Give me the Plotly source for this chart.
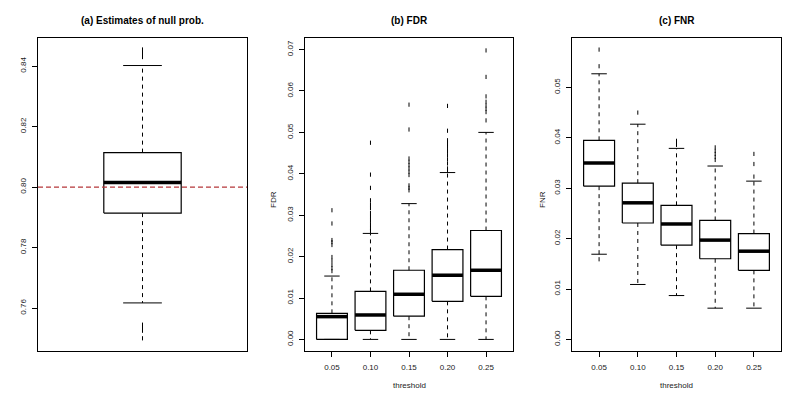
import plotly.graph_objects as go

# ---------------- data ----------------
thresholds = ["0.05", "0.10", "0.15", "0.20", "0.25"]

# (a) estimates of null probability
null_q1, null_med, null_q3 = [0.7914], [0.8015], [0.8114]
null_lo, null_hi = [0.7617], [0.8402]
null_out = [0.8455, 0.8448, 0.8440, 0.8430, 0.7545, 0.7535, 0.7525, 0.7500]
null_true = 0.80

# (b) FDR
fdr_q1 = [0.0000, 0.0022, 0.0056, 0.0092, 0.0104]
fdr_med = [0.0055, 0.0059, 0.0109, 0.0155, 0.0167]
fdr_q3 = [0.0063, 0.0116, 0.0167, 0.0217, 0.0263]
fdr_lo = [0.0000, 0.0000, 0.0000, 0.0000, 0.0000]
fdr_hi = [0.0153, 0.0256, 0.0328, 0.0403, 0.0500]
fdr_out = [
    [0.0165, 0.0172, 0.0180, 0.0190, 0.0199, 0.0228, 0.0235, 0.0240, 0.0280, 0.0312],
    [0.0262, 0.0269, 0.0278, 0.0287, 0.0296, 0.0305, 0.0317, 0.0326, 0.0336, 0.0366, 0.0398, 0.0475],
    [0.0360, 0.0366, 0.0372, 0.0397, 0.0405, 0.0413, 0.0421, 0.0429, 0.0437, 0.0507, 0.0567],
    [0.0409, 0.0413, 0.0425, 0.0435, 0.0445, 0.0455, 0.0465, 0.0473, 0.0481, 0.0504, 0.0564],
    [0.0529, 0.0549, 0.0557, 0.0565, 0.0574, 0.0587, 0.0634, 0.0698],
]

# (c) FNR
fnr_q1 = [0.0304, 0.0231, 0.0187, 0.0160, 0.0137]
fnr_med = [0.0350, 0.0271, 0.0229, 0.0197, 0.0175]
fnr_q3 = [0.0395, 0.0310, 0.0266, 0.0236, 0.0210]
fnr_lo = [0.0169, 0.0109, 0.0087, 0.0062, 0.0062]
fnr_hi = [0.0527, 0.0427, 0.0379, 0.0344, 0.0314]
fnr_out = [
    [0.0575, 0.0542, 0.0159],
    [0.0450],
    [0.0386, 0.0390, 0.0394],
    [0.0356, 0.0362, 0.0368, 0.0374, 0.0381],
    [0.0323, 0.0348, 0.0368],
]

# ---------------- helpers ----------------
FONT = "Liberation Sans, Arial, sans-serif"


def add_boxes(fig, xa, ya, q1, med, q3, lo, hi, outs, halfw, capw):
    pos = list(range(1, len(q1) + 1))
    bx, by, mx, my, wx, wy, cx, cy, ox, oy = [], [], [], [], [], [], [], [], [], []
    for p, a, m, b, l, h, o in zip(pos, q1, med, q3, lo, hi, outs):
        bx += [p - halfw, p + halfw, p + halfw, p - halfw, p - halfw, None]
        by += [a, a, b, b, a, None]
        mx += [p - halfw, p + halfw, None]
        my += [m, m, None]
        wx += [p, p, None, p, p, None]
        wy += [b, h, None, a, l, None]
        cx += [p - capw, p + capw, None, p - capw, p + capw, None]
        cy += [h, h, None, l, l, None]
        ox += [p] * len(o)
        oy += list(o)
    common = dict(xaxis=xa, yaxis=ya, showlegend=False, hoverinfo="skip")
    fig.add_trace(go.Scatter(x=wx, y=wy, mode="lines",
                             line=dict(color="black", width=1, dash="4px,4px"), **common))
    fig.add_trace(go.Scatter(x=cx, y=cy, mode="lines",
                             line=dict(color="black", width=1), **common))
    fig.add_trace(go.Scatter(x=bx, y=by, mode="lines",
                             line=dict(color="black", width=1.2), **common))
    fig.add_trace(go.Scatter(x=mx, y=my, mode="lines",
                             line=dict(color="black", width=3.5), **common))
    fig.add_trace(go.Scatter(x=ox, y=oy, mode="markers",
                             marker=dict(symbol="line-ns-open", size=3, color="black",
                                         line=dict(color="black", width=1)), **common))


fig = go.Figure()

add_boxes(fig, "x", "y", null_q1, null_med, null_q3, null_lo, null_hi, [null_out], 0.2, 0.1)
add_boxes(fig, "x2", "y2", fdr_q1, fdr_med, fdr_q3, fdr_lo, fdr_hi, fdr_out, 0.4, 0.2)
add_boxes(fig, "x3", "y3", fnr_q1, fnr_med, fnr_q3, fnr_lo, fnr_hi, fnr_out, 0.4, 0.2)

# reference line at the true null probability
fig.add_shape(type="line", xref="x domain", x0=0, x1=1, yref="y", y0=null_true, y1=null_true,
              line=dict(color="#b5373a", width=1.2, dash="5px,3px"))

W, H = 800, 400
ydom = [1 - 351 / H, 1 - 38 / H]
xdoms = [[38 / W, 247 / W], [305 / W, 513 / W], [572 / W, 781 / W]]

axis_common = dict(showline=True, mirror=True, linecolor="black", linewidth=1,
                   showgrid=False, zeroline=False, ticks="outside", ticklen=5,
                   tickcolor="black", tickwidth=1,
                   tickfont=dict(family=FONT, size=8, color="#222"))

fig.update_layout(
    width=W, height=H, margin=dict(l=0, r=0, t=0, b=0),
    paper_bgcolor="white", plot_bgcolor="white",
    xaxis=dict(domain=xdoms[0], range=[0.46, 1.54], showticklabels=False,
               **{**axis_common, "ticks": ""}),
    yaxis=dict(domain=ydom, range=[0.7458, 0.8493], tickvals=[0.76, 0.78, 0.80, 0.82, 0.84],
               ticktext=["0.76", "0.78", "0.80", "0.82", "0.84"], tickangle=-90,
               ticklabelstandoff=3, **axis_common),
    xaxis2=dict(domain=xdoms[1], range=[0.3, 5.7], tickvals=[1, 2, 3, 4, 5],
                ticktext=thresholds, ticklabelstandoff=3, anchor="y2", **axis_common),
    yaxis2=dict(domain=ydom, range=[-0.0028, 0.0728], anchor="x2",
                tickvals=[0, 0.01, 0.02, 0.03, 0.04, 0.05, 0.06, 0.07],
                ticktext=["0.00", "0.01", "0.02", "0.03", "0.04", "0.05", "0.06", "0.07"],
                tickangle=-90, ticklabelstandoff=3, **axis_common),
    xaxis3=dict(domain=xdoms[2], range=[0.3, 5.7], tickvals=[1, 2, 3, 4, 5],
                ticktext=thresholds, ticklabelstandoff=3, anchor="y3", **axis_common),
    yaxis3=dict(domain=ydom, range=[-0.0023, 0.0598], anchor="x3",
                tickvals=[0, 0.01, 0.02, 0.03, 0.04, 0.05],
                ticktext=["0.00", "0.01", "0.02", "0.03", "0.04", "0.05"],
                tickangle=-90, ticklabelstandoff=3, **axis_common),
)

titles = ["(a) Estimates of null prob.", "(b) FDR", "(c) FNR"]
anns = []
for t, d in zip(titles, xdoms):
    anns.append(dict(text="<b>%s</b>" % t, x=(d[0] + d[1]) / 2, y=1 - 21 / H, xref="paper",
                     yref="paper", showarrow=False, xanchor="center", yanchor="middle",
                     font=dict(family=FONT, size=10, color="black")))
for t, d in zip(["threshold", "threshold"], xdoms[1:]):
    anns.append(dict(text=t, x=(d[0] + d[1]) / 2, y=1 - 385 / H, xref="paper", yref="paper",
                     showarrow=False, xanchor="center", yanchor="middle",
                     font=dict(family=FONT, size=8, color="#222")))
for t, xp in zip(["FDR", "FNR"], [273, 542]):
    anns.append(dict(text=t, x=xp / W, y=1 - 200 / H, xref="paper", yref="paper",
                     showarrow=False, xanchor="center", yanchor="middle", textangle=-90,
                     font=dict(family=FONT, size=8, color="#222")))
fig.update_layout(annotations=anns)

fig.write_html("out.html", config={"displayModeBar": False},
               post_script="document.body.style.margin='0';document.body.style.overflow='hidden';")
